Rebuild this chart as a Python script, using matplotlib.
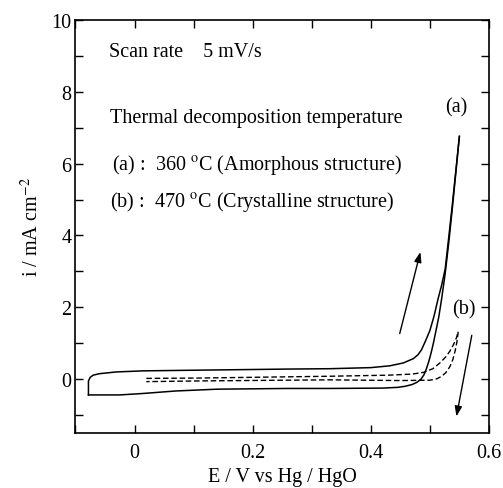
import matplotlib
matplotlib.use("Agg")
import matplotlib.pyplot as plt
from matplotlib.ticker import MultipleLocator

plt.rcParams['font.family'] = ['Liberation Serif', 'DejaVu Serif']
plt.rcParams['mathtext.fontset'] = 'stix'

# Curve (a): 360 C, amorphous (solid loop)
a_anodic_E = [-0.078, -0.078, -0.075, -0.070, -0.060, -0.031, 0.014, 0.11, 0.26, 0.33, 0.40, 0.432,
              0.455, 0.472, 0.480, 0.486, 0.492, 0.500, 0.507, 0.514, 0.520, 0.526, 0.532, 0.538,
              0.544, 0.550]
a_anodic_i = [-0.44, -0.05, 0.05, 0.11, 0.15, 0.20, 0.23, 0.25, 0.28, 0.29, 0.32, 0.37,
              0.45, 0.57, 0.68, 0.82, 1.04, 1.35, 1.75, 2.24, 2.62, 3.07, 3.95, 4.85,
              5.80, 6.76]
a_cath_E = [0.550, 0.544, 0.538, 0.532, 0.526, 0.520, 0.515, 0.510, 0.506, 0.502, 0.498, 0.494,
            0.490, 0.485, 0.478, 0.470, 0.458, 0.445, 0.42, 0.33, 0.26, 0.14, 0.07, 0.014,
            -0.025, -0.065, -0.078]
a_cath_i = [6.76, 5.75, 4.75, 3.80, 2.95, 2.24, 1.72, 1.32, 1.00, 0.72, 0.48, 0.28,
            0.12, 0.00, -0.09, -0.15, -0.20, -0.23, -0.25, -0.26, -0.26, -0.28, -0.33, -0.40,
            -0.44, -0.44, -0.44]

# Curve (b): 470 C, crystalline (dashed loop)
b_anodic_E = [0.020, 0.11, 0.33, 0.43, 0.470, 0.490, 0.505, 0.517, 0.527, 0.534, 0.540, 0.545,
              0.548]
b_anodic_i = [0.02, 0.03, 0.08, 0.11, 0.14, 0.19, 0.29, 0.45, 0.62, 0.78, 0.96, 1.15, 1.32]
b_cath_E = [0.548, 0.546, 0.543, 0.539, 0.534, 0.527, 0.520, 0.512, 0.50, 0.45, 0.33, 0.11, 0.020]
b_cath_i = [1.32, 1.05, 0.80, 0.55, 0.35, 0.18, 0.08, 0.01, -0.03, -0.04, -0.02, -0.05, -0.07]

fig = plt.figure(figsize=(5.03, 4.89), dpi=100)
ax = fig.add_axes([0.150, 0.1125, 0.822, 0.8445])

ax.plot(a_anodic_E, a_anodic_i, color='black', lw=1.1)
ax.plot(a_cath_E, a_cath_i, color='black', lw=1.1)
ax.plot(b_anodic_E, b_anodic_i, color='black', lw=1.0, ls=(0, (4, 2)))
ax.plot(b_cath_E, b_cath_i, color='black', lw=1.0, ls=(0, (4, 2)))

ax.set_xlim(-0.1, 0.6)
ax.set_ylim(-1.5, 10)
ax.xaxis.set_minor_locator(MultipleLocator(0.1))
ax.yaxis.set_major_locator(MultipleLocator(2))
ax.yaxis.set_minor_locator(MultipleLocator(1))
ax.set_xticks([0, 0.2, 0.4, 0.6])
ax.set_xticklabels(['0', '0.2', '0.4', '0.6'])
ax.tick_params(which='both', direction='in', top=True, right=True, length=6, width=1,
               labelsize=14.5, pad=7)
ax.tick_params(axis='y', which='both', pad=3)
for s in ax.spines.values():
    s.set_linewidth(1.2)

ax.set_xlabel('E / V vs Hg / HgO', fontsize=14.5, labelpad=4)
ax.set_ylabel('i / mA cm$^{-2}$', fontsize=14.5, labelpad=6)

fs = 14.5
ax.text(-0.044, 9.13, 'Scan rate    5 mV/s', fontsize=fs, va='center', ha='left')
ax.text(-0.041, 7.29, 'Thermal decomposition temperature', fontsize=fs, va='center', ha='left')
ax.text(-0.038, 5.99, '(a) :  360 $^{\\mathrm{o}}$C (Amorphous structure)', fontsize=fs,
        va='center', ha='left')
ax.text(-0.041, 4.97, '(b) :  470 $^{\\mathrm{o}}$C (Crystalline structure)', fontsize=fs,
        va='center', ha='left')
ax.text(0.545, 7.57, '(a)', fontsize=fs, va='center', ha='center')
ax.text(0.558, 1.96, '(b)', fontsize=fs, va='center', ha='center')

ax.annotate('', xy=(0.484, 3.54), xytext=(0.449, 1.27),
            arrowprops=dict(arrowstyle='-|>,head_length=0.5,head_width=0.18', color='black',
                            lw=1.0, mutation_scale=12, shrinkA=0, shrinkB=0))
ax.annotate('', xy=(0.545, -1.04), xytext=(0.571, 1.22),
            arrowprops=dict(arrowstyle='-|>,head_length=0.5,head_width=0.18', color='black',
                            lw=1.0, mutation_scale=12, shrinkA=0, shrinkB=0))

fig.savefig('out.png', dpi=100)
